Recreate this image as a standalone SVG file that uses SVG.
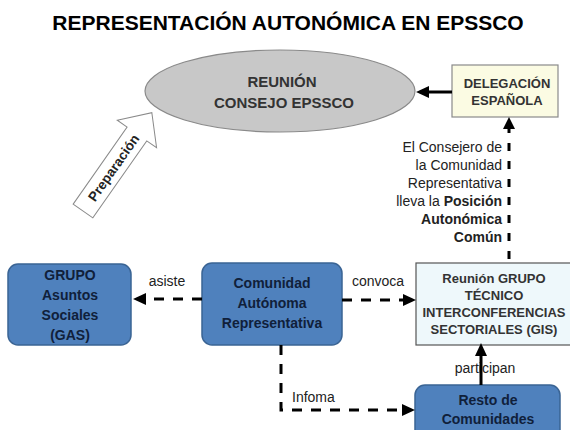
<svg xmlns="http://www.w3.org/2000/svg" width="570" height="430" viewBox="0 0 570 430">
<style>
.t{font-family:"Liberation Sans",Arial,sans-serif}
.b{font-weight:bold}
.blue{fill:#4f81bd;stroke:#3a6494;stroke-width:1.5}
.bt{font-family:"Liberation Sans",Arial,sans-serif;font-weight:bold;font-size:14px;fill:#10203a;text-anchor:middle}
.lbl{font-family:"Liberation Sans",Arial,sans-serif;font-size:14px;fill:#222}
.dash{fill:none;stroke:#000;stroke-width:3;stroke-dasharray:10 9}
.solid{fill:none;stroke:#000;stroke-width:3}
</style>
<rect width="570" height="430" fill="#fff"/>
<text class="t b" x="288" y="30" font-size="21" text-anchor="middle" fill="#000">REPRESENTACIÓN AUTONÓMICA EN EPSSCO</text>

<g id="preparacion" transform="translate(83,211) rotate(-55)">
<polygon points="0,-12 94,-12 94,-24 120,0 94,24 94,12 0,12" fill="#fff" stroke="#8a8a8a" stroke-width="1"/>
<text class="t b" x="53" y="5" font-size="13.5" text-anchor="middle" fill="#222">Preparación</text>
</g>

<g id="reunion-consejo">
<ellipse cx="280" cy="91" rx="135" ry="41" fill="#c8c8c8" stroke="#8a8a8a" stroke-width="1.2"/>
<text class="t b" x="282" y="87" font-size="15" text-anchor="middle" fill="#333">REUNIÓN</text>
<text class="t b" x="284" y="108" font-size="15" text-anchor="middle" fill="#333">CONSEJO EPSSCO</text>
</g>

<g id="delegacion">
<rect x="452" y="65" width="106" height="52" fill="#fbfbe3" stroke="#8a8a8a" stroke-width="1.2"/>
<text class="t b" x="507" y="88" font-size="13" text-anchor="middle" fill="#333">DELEGACIÓN</text>
<text class="t b" x="507" y="105" font-size="13" text-anchor="middle" fill="#333">ESPAÑOLA</text>
</g>

<g id="gas">
<rect class="blue" x="8" y="264" width="123" height="81" rx="10"/>
<text class="bt" x="70" y="280">GRUPO</text>
<text class="bt" x="70" y="300">Asuntos</text>
<text class="bt" x="70" y="320">Sociales</text>
<text class="bt" x="70" y="340">(GAS)</text>
</g>

<g id="comunidad">
<rect class="blue" x="202" y="263" width="140" height="82" rx="10"/>
<text class="bt" x="272" y="288">Comunidad</text>
<text class="bt" x="272" y="308">Autónoma</text>
<text class="bt" x="272" y="328">Representativa</text>
</g>

<g id="gis">
<rect x="416" y="263" width="160" height="82" fill="#eef8fb" stroke="#555" stroke-width="1.2"/>
<text class="t b" x="494" y="283" font-size="13" text-anchor="middle" fill="#333">Reunión GRUPO</text>
<text class="t b" x="494" y="300" font-size="13" text-anchor="middle" fill="#333">TÉCNICO</text>
<text class="t b" x="494" y="317" font-size="13" text-anchor="middle" fill="#333">INTERCONFERENCIAS</text>
<text class="t b" x="494" y="334" font-size="13" text-anchor="middle" fill="#333">SECTORIALES (GIS)</text>
</g>

<g id="resto">
<rect class="blue" x="415" y="385" width="145" height="60" rx="10"/>
<text class="bt" x="488" y="405">Resto de</text>
<text class="bt" x="488" y="424">Comunidades</text>
</g>

<g id="connectors">
<text class="lbl" x="502" y="152" text-anchor="end">El Consejero de</text>
<text class="lbl" x="502" y="170" text-anchor="end">la Comunidad</text>
<text class="lbl" x="502" y="188" text-anchor="end">Representativa</text>
<text class="lbl" x="502" y="206" text-anchor="end">lleva la <tspan font-weight="bold">Posición</tspan></text>
<text class="lbl" x="502" y="224" text-anchor="end" font-weight="bold">Autonómica</text>
<text class="lbl" x="502" y="242" text-anchor="end" font-weight="bold">Común</text>
<text class="lbl" x="167" y="286" text-anchor="middle">asiste</text>
<text class="lbl" x="378" y="286" text-anchor="middle">convoca</text>
<text class="lbl" x="292" y="402">Infoma</text>
<text class="lbl" x="485" y="373" text-anchor="middle">participan</text>

<path class="solid" d="M452,92 H428"/>
<path d="M416,92 L429,86 L429,98 z" fill="#000"/>
<path d="M509,125 V263" fill="none" stroke="#000" stroke-width="3" stroke-dasharray="8 10"/>
<path d="M509,117 L503,129 L515,129 z" fill="#000"/>
<path class="dash" d="M202,299 H145"/>
<path d="M133,299 L146,293 L146,305 z" fill="#000"/>
<path class="dash" d="M342,300 H404"/>
<path d="M416,300 L403,294 L403,306 z" fill="#000"/>
<path class="dash" d="M281,345 V410 H403"/>
<path d="M415,410 L402,404 L402,416 z" fill="#000"/>
<path class="solid" d="M481,385 V355"/>
<path d="M481,343 L475,356 L487,356 z" fill="#000"/>
</g>
</svg>
